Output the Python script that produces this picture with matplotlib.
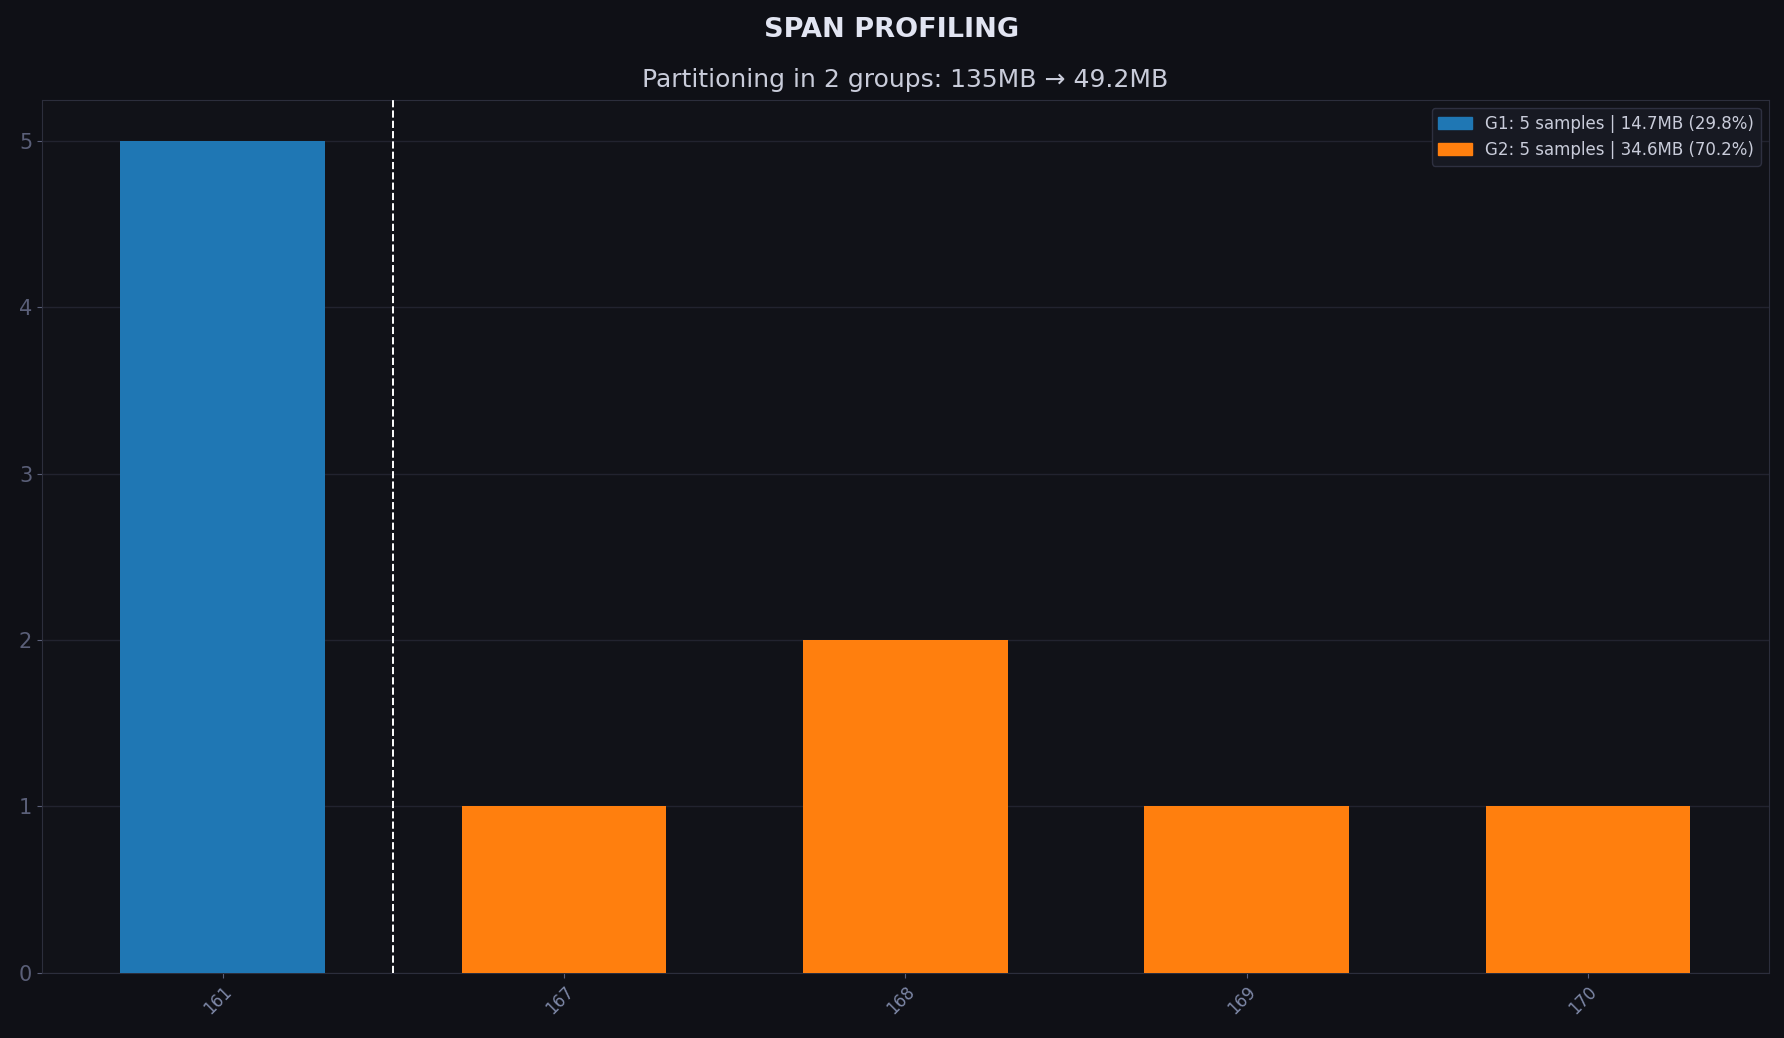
import matplotlib
matplotlib.use("Agg")
import matplotlib.pyplot as plt
import matplotlib.patches as mp

CATEGORIAS = ["161", "167", "168", "169", "170"]
CONTAGENS = [5, 1, 2, 1, 1]
GRUPOS = [1, 2, 2, 2, 2]
ROTULOS_GRUPO = ["G1: 5 samples | 14.7MB (29.8%)", "G2: 5 samples | 34.6MB (70.2%)"]
CORES_GRUPO = ["#1f77b4", "#ff7f0e"]
FRONTEIRAS = [0.5]

FUNDO = "#0f1016"
PAINEL = "#111218"

fig, ax = plt.subplots(figsize=(17.84, 10.38), dpi=100, facecolor=FUNDO)
ax.set_facecolor(PAINEL)

xs = list(range(len(CATEGORIAS)))
cores = [CORES_GRUPO[g - 1] for g in GRUPOS]
ax.bar(xs, CONTAGENS, width=0.6, color=cores, zorder=3)
for f in FRONTEIRAS:
    ax.axvline(f, color="#ffffff", linestyle="--", linewidth=1.4, zorder=4)

ax.set_xticks(xs)
ax.set_xticklabels(CATEGORIAS, rotation=45, ha="right", rotation_mode="anchor",
                   fontsize=12)
ax.tick_params(axis="y", colors="#5a5f78", labelsize=15)
ax.tick_params(axis="x", color="#5a5f78", labelcolor="#7d87a6")
ax.grid(axis="y", color="#22232f", linewidth=1.0, zorder=0)
for s in ax.spines.values():
    s.set_color("#2c2e3c")

fig.suptitle("SPAN PROFILING", color="#e2e5f2", fontsize=19.5, fontweight="bold", y=0.984)
ax.set_title("Partitioning in 2 groups: 135MB \u2192 49.2MB", color="#c9ccda",
             fontsize=18, pad=9)

handles = [mp.Patch(color=c, label=l) for c, l in zip(CORES_GRUPO, ROTULOS_GRUPO)]
leg = ax.legend(handles=handles, loc="upper right", fontsize=12,
                facecolor="#171922", edgecolor="#2e3040", labelcolor="#c9ccda",
                framealpha=1.0)

plt.subplots_adjust(left=0.0235, right=0.9915, top=0.904, bottom=0.063)
plt.savefig("out.png", dpi=100, facecolor=FUNDO)
